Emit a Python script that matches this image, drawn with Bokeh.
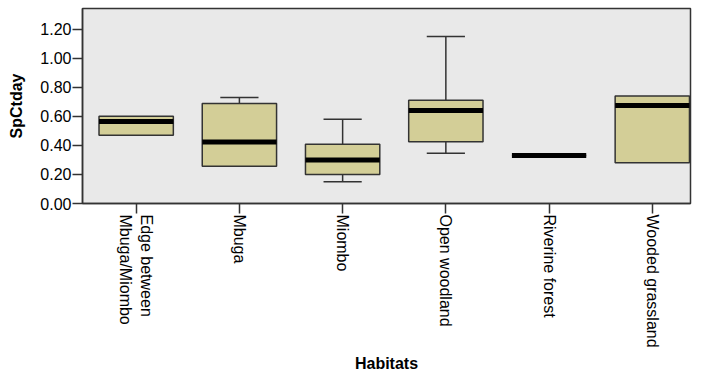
import numpy as np
from bokeh.plotting import figure
from bokeh.models import ColumnDataSource, FixedTicker, Range1d
from bokeh.embed import file_html
from bokeh.resources import INLINE

categories = ["Edge between\nMbuga/Miombo", "Mbuga", "Miombo", "Open woodland",
              "Riverine forest", "Wooded grassland"]
whisker_low = [0.47, 0.256, 0.15, 0.345, 0.33, 0.28]
q1 = [0.47, 0.256, 0.20, 0.425, 0.33, 0.28]
median = [0.565, 0.423, 0.30, 0.64, 0.33, 0.675]
q3 = [0.60, 0.688, 0.407, 0.71, 0.33, 0.74]
whisker_high = [0.60, 0.73, 0.58, 1.15, 0.33, 0.74]
y_ticks = [0.0, 0.2, 0.4, 0.6, 0.8, 1.0, 1.2]

xs = list(range(len(categories)))
src = ColumnDataSource(dict(x=xs, lo=whisker_low, q1=q1, med=median, q3=q3, hi=whisker_high))

FONT = "Liberation Sans"
DARK = "#333333"

p = figure(width=692, height=374, output_backend="svg", toolbar_location=None,
           x_range=Range1d(-0.52, 5.37), y_range=Range1d(0, 1.342),
           min_border_left=82, min_border_right=2, min_border_top=8, min_border_bottom=167,
           background_fill_color="#e9e9e9", border_fill_color="white")

p.outline_line_color = DARK
p.outline_line_width = 1.5
p.grid.visible = False

bw = 0.72
cw = 0.37
# whiskers (upper and lower stems)
p.segment(x0="x", y0="q3", x1="x", y1="hi", source=src, line_color=DARK, line_width=1.5)
p.segment(x0="x", y0="lo", x1="x", y1="q1", source=src, line_color=DARK, line_width=1.5)
# caps
cap_src_hi = ColumnDataSource(dict(x0=[x - cw / 2 for x, a, b in zip(xs, q3, whisker_high) if b > a],
                                   x1=[x + cw / 2 for x, a, b in zip(xs, q3, whisker_high) if b > a],
                                   y=[b for a, b in zip(q3, whisker_high) if b > a]))
cap_src_lo = ColumnDataSource(dict(x0=[x - cw / 2 for x, a, b in zip(xs, q1, whisker_low) if b < a],
                                   x1=[x + cw / 2 for x, a, b in zip(xs, q1, whisker_low) if b < a],
                                   y=[b for a, b in zip(q1, whisker_low) if b < a]))
p.segment(x0="x0", y0="y", x1="x1", y1="y", source=cap_src_hi, line_color=DARK, line_width=1.5)
p.segment(x0="x0", y0="y", x1="x1", y1="y", source=cap_src_lo, line_color=DARK, line_width=1.5)
# boxes
p.vbar(x="x", width=bw, bottom="q1", top="q3", source=src, fill_color="#d3ce97",
       line_color=DARK, line_width=1.5)
# medians
p.rect(x="x", y="med", width=bw, height=5, height_units="screen", source=src,
       fill_color="black", line_color=None)

# axes
p.xaxis.ticker = FixedTicker(ticks=xs)
p.xaxis.major_label_overrides = {i: c for i, c in enumerate(categories)}
p.xaxis.major_label_orientation = -np.pi / 2
p.yaxis.ticker = FixedTicker(ticks=y_ticks)
p.yaxis.major_label_overrides = {t: f"{t:.2f}" for t in y_ticks}

for ax in (p.xaxis[0], p.yaxis[0]):
    ax.axis_line_color = DARK
    ax.axis_line_width = 1.5
    ax.major_tick_line_color = DARK
    ax.major_tick_line_width = 1.5
    ax.major_tick_out = 10
    ax.major_tick_in = 0
    ax.minor_tick_line_color = None
    ax.major_label_text_font = FONT
    ax.major_label_text_font_size = "16px"
    ax.major_label_text_color = "black"
    ax.axis_label_text_font = FONT
    ax.axis_label_text_font_size = "16px"
    ax.axis_label_text_font_style = "bold"
    ax.axis_label_text_color = "black"
    ax.major_label_standoff = 1

p.xaxis.axis_label = "Habitats"
p.yaxis.axis_label = "SpCtday"
p.xaxis.axis_label_standoff = 4
p.yaxis.axis_label_standoff = 12

open("out.html", "w").write(file_html(p, INLINE))
